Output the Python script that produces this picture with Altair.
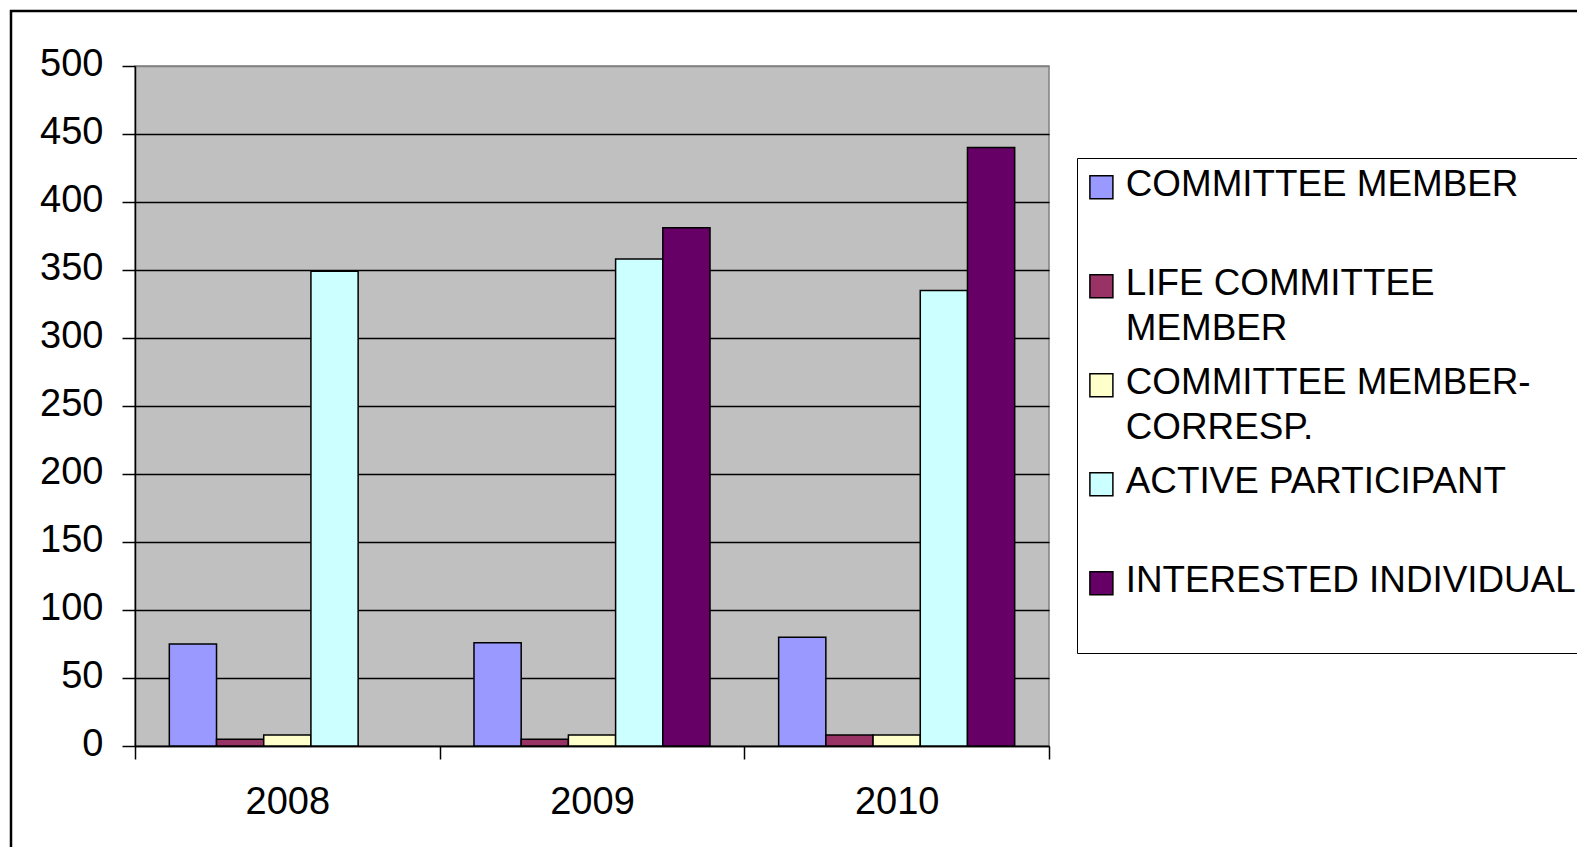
import altair as alt
import pandas as pd

years = ["2008", "2009", "2010"]
series = ["COMMITTEE MEMBER", "LIFE COMMITTEE MEMBER", "COMMITTEE MEMBER-CORRESP.",
          "ACTIVE PARTICIPANT", "INTERESTED INDIVIDUAL"]
legend_lines = [["COMMITTEE MEMBER", ""], ["LIFE COMMITTEE", "MEMBER"],
                ["COMMITTEE MEMBER-", "CORRESP."], ["ACTIVE PARTICIPANT", ""],
                ["INTERESTED INDIVIDUAL", ""]]
colors = ["#9999FF", "#993366", "#FFFFCC", "#CCFFFF", "#660066"]

committee_member = [75, 76, 80]
life_committee_member = [5, 5, 8]
committee_member_corresp = [8, 8, 8]
active_participant = [349, 358, 335]
interested_individual = [None, 381, 440]

y_ticks = [0, 50, 100, 150, 200, 250, 300, 350, 400, 450, 500]

rows = []
for s, vals in zip(series, [committee_member, life_committee_member, committee_member_corresp,
                            active_participant, interested_individual]):
    for yr, v in zip(years, vals):
        if v is not None:
            rows.append({"year": yr, "series": s, "value": v})
df = pd.DataFrame(rows)

W, H = 914, 680
FONT = "Liberation Sans"
FS = 38
LFS = 36.8

expr = "''"
for s, lines in reversed(list(zip(series, legend_lines))):
    arr = "[" + ",".join("'" + l + "'" for l in lines) + "]"
    expr = f"datum.label == '{s}' ? {arr} : ({expr})"

legend_kw = dict(orient="none", legendX=942, legendY=92,
                 title=" ", titleFontSize=1, titlePadding=12,
                 symbolType="M-1,-1.8H1V0.2H-1Z", symbolSize=529,
                 symbolStrokeColor="black", symbolStrokeWidth=1.5,
                 symbolOpacity=1, symbolOffset=-1,
                 labelFont=FONT, labelFontSize=LFS, labelColor="black",
                 labelBaseline="alphabetic", labelOffset=6, labelLimit=0,
                 padding=7, rowPadding=16, strokeColor="black",
                 fillColor="white", labelExpr=expr, zindex=1)
try:
    alt.Legend(strokeWidth=2).to_dict()
    legend_kw["strokeWidth"] = 2
except Exception:
    pass

bars = alt.Chart(df).mark_bar(stroke="black", strokeWidth=1.5, opacity=1).encode(
    x=alt.X("year:N", sort=years,
            scale=alt.Scale(paddingInner=0, paddingOuter=0),
            axis=alt.Axis(title=None, labelAngle=0, labelFontSize=FS, labelFont=FONT,
                          labelColor="black", labelPadding=24, tickSize=13,
                          tickBand="extent", tickColor="black", tickWidth=1.5,
                          domainColor="black", domainWidth=1.5, grid=False)),
    xOffset=alt.XOffset("series:N", sort=series,
                        scale=alt.Scale(domain=series, paddingInner=0, paddingOuter=0.727)),
    y=alt.Y("value:Q",
            scale=alt.Scale(domain=[0, 500], nice=False),
            axis=alt.Axis(title=None, values=y_ticks, labelFontSize=FS, labelFont=FONT,
                          labelColor="black", labelPadding=19, labelOffset=-2, tickSize=13,
                          tickColor="black", tickWidth=1.5, domainColor="black",
                          domainWidth=1.5, grid=True, gridWidth=1.5,
                          gridColor={"condition": {"test": "datum.value >= 500", "value": "#808080"},
                                     "value": "black"})),
    color=alt.Color("series:N", sort=series,
                    scale=alt.Scale(domain=series, range=colors),
                    legend=alt.Legend(**legend_kw)),
)

frame = alt.Chart(pd.DataFrame({"a": [0]})).mark_rect(
    filled=False, stroke="black", strokeWidth=2.5
).encode(x=alt.value(-124), x2=alt.value(W + 700), y=alt.value(-55), y2=alt.value(H + 300))

chart = alt.layer(frame, bars).properties(
    width=W, height=H,
    padding={"left": 127, "top": 58, "right": 528, "bottom": 101},
    autosize=alt.AutoSizeParams(type="none"),
    background="white",
).configure(font=FONT, style={"guide-label": {"lineHeight": 45}}).configure_view(
    fill="#C0C0C0", stroke="#808080", strokeWidth=1.5
)

chart.save("out.html", embed_options={"renderer": "svg", "actions": False})
